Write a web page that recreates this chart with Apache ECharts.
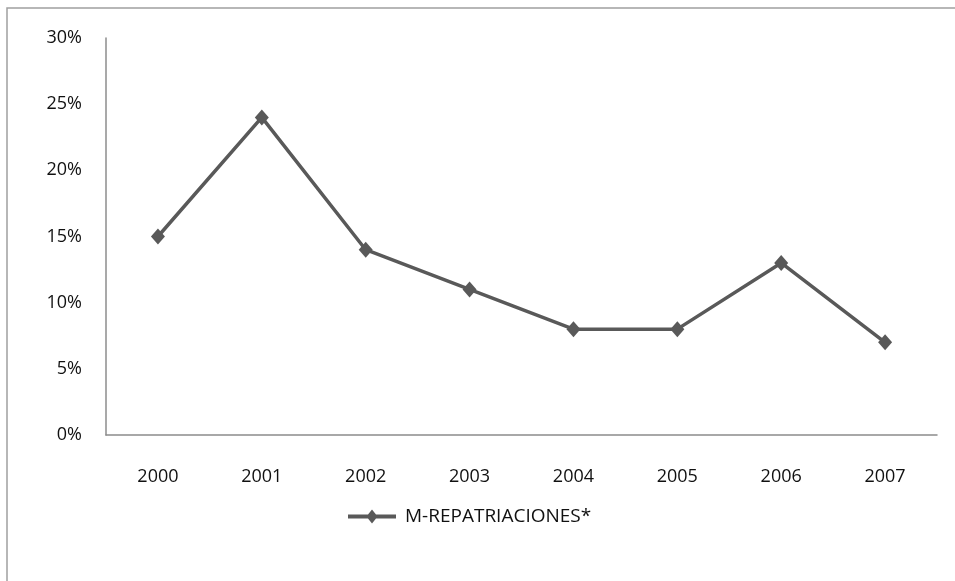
<!DOCTYPE html>
<html>
<head>
<meta charset="utf-8">
<script src="https://cdn.jsdelivr.net/npm/echarts@6/dist/echarts.min.js"></script>
<style>
  html, body { margin: 0; padding: 0; background: #fff; }
  #chart { width: 955px; height: 581px; }
</style>
</head>
<body>
<div id="chart"></div>
<script>
// ===== 数据 =====
const years = ['2000', '2001', '2002', '2003', '2004', '2005', '2006', '2007'];
const repatriaciones = [15, 24, 14, 11, 8, 8, 13, 7];
const seriesName = 'M-REPATRIACIONES*';

const lineColor = '#595959';
const textColor = '#111';
const fontFamily = '"Open Sans", "Liberation Sans", sans-serif';

const chart = echarts.init(document.getElementById('chart'), null, { renderer: 'canvas' });

chart.setOption({
  animation: false,
  backgroundColor: '#fff',
  graphic: [{
    type: 'rect',
    shape: { x: 7, y: 8, width: 1000, height: 700 },
    style: { fill: 'none', stroke: '#a0a0a0', lineWidth: 1.5 },
    silent: true
  }],
  grid: { left: 106, right: 18, top: 38, bottom: 146 },
  legend: {
    bottom: 50,
    left: 343,
    itemWidth: 56,
    itemHeight: 14,
    icon: 'path://M0,5 L20,5 L24,0 L28,5 L48,5 L48,9 L28,9 L24,14 L20,9 L0,9 Z',
    textStyle: { color: textColor, fontSize: 19, fontFamily: fontFamily },
    itemGap: 2,
    data: [{ name: seriesName, itemStyle: { color: lineColor } }]
  },
  xAxis: {
    type: 'category',
    data: years,
    boundaryGap: true,
    axisLine: { lineStyle: { color: '#8c8c8c', width: 1.5 } },
    axisTick: { show: false },
    axisLabel: { color: textColor, fontSize: 18, fontFamily: fontFamily, margin: 33 }
  },
  yAxis: {
    type: 'value',
    min: 0,
    max: 30,
    interval: 5,
    axisLine: { show: true, lineStyle: { color: '#8c8c8c', width: 1.5 } },
    axisTick: { show: false },
    splitLine: { show: false },
    axisLabel: {
      color: textColor, fontSize: 18, fontFamily: fontFamily, margin: 24,
      formatter: '{value}%'
    }
  },
  series: [{
    name: seriesName,
    type: 'line',
    data: repatriaciones,
    symbol: 'diamond',
    symbolSize: [14, 16],
    lineStyle: { color: lineColor, width: 3.5 },
    itemStyle: { color: lineColor }
  }]
});
</script>
</body>
</html>
